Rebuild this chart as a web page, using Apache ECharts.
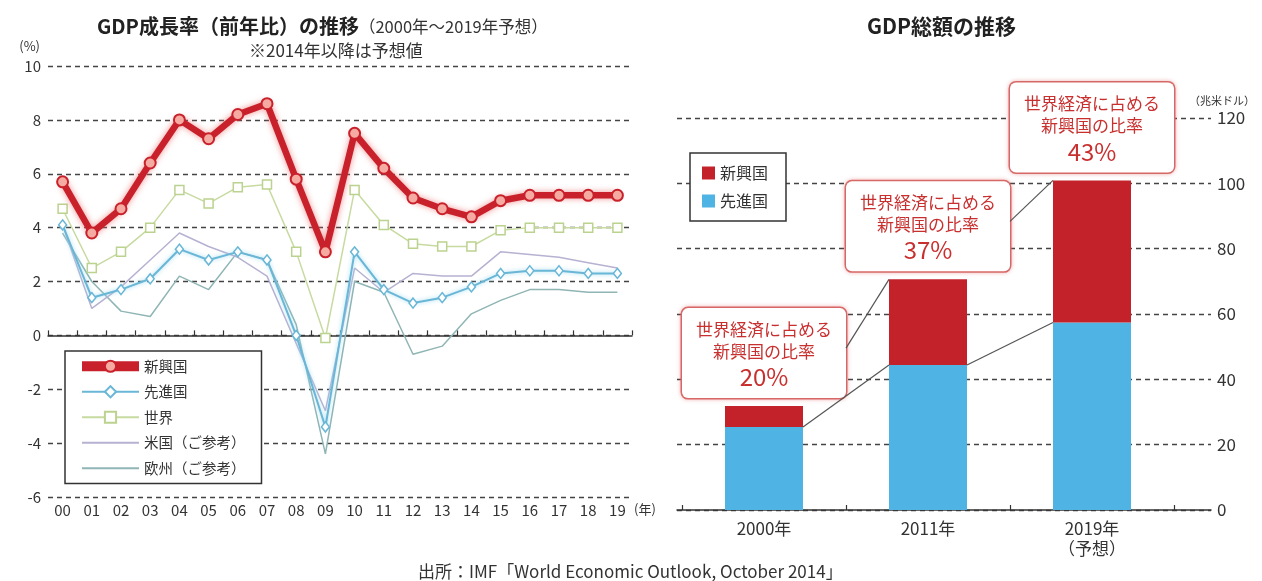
<!DOCTYPE html>
<html>
<head>
<meta charset="utf-8">
<script src="https://cdn.jsdelivr.net/npm/echarts@6/dist/echarts.min.js"></script>
<style>
  html, body { margin: 0; padding: 0; background: #fff; }
  #chart { width: 1262px; height: 581px; }
</style>
</head>
<body>
<div id="chart"></div>
<script>
// ---- GDP growth rate (year on year, %), 2000–2019 (2014 onward are forecasts) ----
const years = ['00', '01', '02', '03', '04', '05', '06', '07', '08', '09',
               '10', '11', '12', '13', '14', '15', '16', '17', '18', '19'];
const growthEmerging = [5.7, 3.8, 4.7, 6.4, 8.0, 7.3, 8.2, 8.6, 5.8, 3.1,
                        7.5, 6.2, 5.1, 4.7, 4.4, 5.0, 5.2, 5.2, 5.2, 5.2];
const growthAdvanced = [4.1, 1.4, 1.7, 2.1, 3.2, 2.8, 3.1, 2.8, 0.0, -3.4,
                        3.1, 1.7, 1.2, 1.4, 1.8, 2.3, 2.4, 2.4, 2.3, 2.3];
const growthWorld    = [4.7, 2.5, 3.1, 4.0, 5.4, 4.9, 5.5, 5.6, 3.1, -0.1,
                        5.4, 4.1, 3.4, 3.3, 3.3, 3.9, 4.0, 4.0, 4.0, 4.0];
const growthUS       = [4.1, 1.0, 1.8, 2.8, 3.8, 3.3, 2.9, 2.2, -0.3, -2.8,
                        2.5, 1.6, 2.3, 2.2, 2.2, 3.1, 3.0, 2.9, 2.7, 2.5];
const growthEurope   = [3.8, 2.0, 0.9, 0.7, 2.2, 1.7, 3.1, 2.8, 0.4, -4.4,
                        2.0, 1.6, -0.7, -0.4, 0.8, 1.3, 1.7, 1.7, 1.6, 1.6];

// ---- Total GDP (trillion US$) ----
const gdpYears    = ['2000年', '2011年', '2019年\n（予想）'];
const gdpAdvanced = [25.4, 44.4, 57.4];
const gdpEmerging = [6.4, 26.2, 43.5];

const barNames  = { emerging: '新興国（総額）', advanced: '先進国（総額）' };
const barLegendText = { [barNames.emerging]: '新興国', [barNames.advanced]: '先進国' };

const FONT = '"Noto Sans CJK JP", "Noto Sans", sans-serif';
const TEXT = '#333';
const BAR_W = 78;
const BOX_W = 164;
const LABEL_GAP = 8;
const dashed = { type: [5, 4], color: '#444', width: 1.3 };

const shareOf = i => Math.round(gdpEmerging[i] / (gdpAdvanced[i] + gdpEmerging[i]) * 100);

const chart = echarts.init(document.getElementById('chart'), null, { renderer: 'canvas' });

const option = {
  animation: false,
  backgroundColor: '#fff',
  textStyle: { fontFamily: FONT },
  title: [
    {
      text: '{b|GDP成長率（前年比）の推移}{n|（2000年〜2019年予想）}',
      left: 92, top: 11,
      textStyle: {
        rich: {
          b: { fontSize: 20, fontWeight: 'bold', color: '#222', fontFamily: FONT },
          n: { fontSize: 16.5, fontWeight: 'normal', color: TEXT, fontFamily: FONT, padding: [2, 0, 0, 0] }
        }
      }
    },
    {
      text: '※2014年以降は予想値',
      left: 244, top: 37,
      textStyle: { fontSize: 17, fontWeight: 'normal', color: TEXT, fontFamily: FONT }
    },
    {
      text: 'GDP総額の推移',
      left: 862, top: 11,
      textStyle: { fontSize: 21, fontWeight: 'bold', color: '#222', fontFamily: FONT }
    },
    {
      text: '（兆米ドル）',
      left: 1184, top: 90,
      textStyle: { fontSize: 11, fontWeight: 'normal', color: TEXT, fontFamily: FONT }
    },
    {
      text: '出所：IMF「World Economic Outlook, October 2014」',
      left: 413, top: 558,
      textStyle: { fontSize: 17, fontWeight: 'normal', color: TEXT, fontFamily: FONT }
    }
  ],
  legend: [
    {
      data: [
        { name: '新興国', lineStyle: { width: 10 } },
        { name: '先進国' },
        { name: '世界' },
        { name: '米国（ご参考）', itemStyle: { opacity: 0 } },
        { name: '欧州（ご参考）', itemStyle: { opacity: 0 } }
      ],
      orient: 'vertical',
      left: 65, top: 351,
      padding: [8, 16, 8, 12],
      itemWidth: 57, itemHeight: 14, itemGap: 11,
      backgroundColor: '#fff',
      borderColor: '#333', borderWidth: 1.5,
      selectedMode: false,
      textStyle: { fontSize: 14.5, color: TEXT, fontFamily: FONT }
    },
    {
      data: [barNames.emerging, barNames.advanced],
      orient: 'vertical',
      left: 690, top: 153,
      padding: [12, 18, 12, 12],
      itemWidth: 13, itemHeight: 13, itemGap: 12,
      icon: 'rect',
      backgroundColor: '#fff',
      borderColor: '#333', borderWidth: 1.5,
      selectedMode: false,
      formatter: name => barLegendText[name],
      textStyle: { fontSize: 16, color: TEXT, fontFamily: FONT }
    }
  ],
  grid: [
    { left: 48, right: 630, top: 66, bottom: 84 },   // growth-rate lines
    { left: 677, right: 51, top: 118, bottom: 71 },  // right frame: value scale + baseline
    { left: 682, right: 88, top: 118, bottom: 71 }   // stacked bars
  ],
  xAxis: [
    {
      gridIndex: 0, type: 'category', data: years, position: 'bottom',
      axisLine: { show: false, onZero: false },
      axisTick: { show: false },
      axisLabel: { fontSize: 15, color: TEXT, margin: 6, fontFamily: FONT },
      name: '(年)', nameLocation: 'end', nameGap: 2,
      nameTextStyle: { fontSize: 13, color: TEXT, verticalAlign: 'top', padding: [6, 0, 0, 0], fontFamily: FONT }
    },
    {
      gridIndex: 0, type: 'category', data: years, position: 'top',
      axisLine: { show: true, onZero: true, lineStyle: { color: '#333', width: 1.5 } },
      axisTick: { show: true, length: 5, lineStyle: { color: '#333', width: 1.2 } },
      axisLabel: { show: false }
    },
    {
      gridIndex: 1, type: 'value', min: 0, max: 1,
      axisLine: { show: true, onZero: false, lineStyle: { color: '#333', width: 1.5 } },
      axisTick: { show: false }, axisLabel: { show: false }, splitLine: { show: false }
    },
    {
      gridIndex: 2, type: 'category', data: gdpYears,
      axisLine: { show: false, onZero: false },
      axisTick: { show: true, inside: true, length: 5, lineStyle: { color: '#333', width: 1.2 } },
      axisLabel: { fontSize: 17, lineHeight: 20, color: TEXT, margin: 9, fontFamily: FONT }
    }
  ],
  yAxis: [
    {
      gridIndex: 0, type: 'value', min: -6, max: 10, interval: 2,
      axisLine: { show: false }, axisTick: { show: false },
      axisLabel: { fontSize: 15, color: TEXT, margin: 7, fontFamily: FONT },
      splitLine: { show: true, lineStyle: dashed },
      name: '(%)', nameLocation: 'end', nameGap: 13,
      nameTextStyle: { fontSize: 13, color: TEXT, align: 'right', padding: [0, 8, 0, 0], fontFamily: FONT }
    },
    {
      gridIndex: 1, type: 'value', position: 'right', min: 0, max: 120, interval: 20,
      axisLine: { show: false }, axisTick: { show: false },
      axisLabel: { fontSize: 17, color: TEXT, margin: 6, fontFamily: FONT },
      splitLine: { show: true, lineStyle: dashed }
    },
    {
      gridIndex: 2, type: 'value', min: 0, max: 120, show: false
    }
  ],
  series: [
    {
      name: '欧州（ご参考）', type: 'line', xAxisIndex: 0, yAxisIndex: 0, z: 2,
      data: growthEurope, showSymbol: false, symbol: 'none',
      lineStyle: { color: '#8fb5b4', width: 1.5 },
      itemStyle: { color: '#8fb5b4' }
    },
    {
      name: '米国（ご参考）', type: 'line', xAxisIndex: 0, yAxisIndex: 0, z: 2,
      data: growthUS, showSymbol: false, symbol: 'none',
      lineStyle: { color: '#b7b1d2', width: 1.5 },
      itemStyle: { color: '#b7b1d2' }
    },
    {
      name: '世界', type: 'line', xAxisIndex: 0, yAxisIndex: 0, z: 3,
      data: growthWorld, symbol: 'rect', symbolSize: 9,
      lineStyle: { color: '#c7daa0', width: 1.5 },
      itemStyle: { color: '#fff', borderColor: '#bcd28f', borderWidth: 1.5 }
    },
    {
      name: '先進国', type: 'line', xAxisIndex: 0, yAxisIndex: 0, z: 4,
      data: growthAdvanced, symbol: 'diamond', symbolSize: [8, 10],
      lineStyle: { color: '#69b6d6', width: 2, shadowColor: 'rgba(150,215,240,0.9)', shadowBlur: 4 },
      itemStyle: { color: '#fff', borderColor: '#69b6d6', borderWidth: 1.5 }
    },
    {
      name: '新興国', type: 'line', xAxisIndex: 0, yAxisIndex: 0, z: 5,
      data: growthEmerging, symbol: 'circle', symbolSize: 11,
      lineStyle: { color: '#c9212b', width: 6.5, shadowColor: 'rgba(235,110,110,0.75)', shadowBlur: 6 },
      itemStyle: { color: '#f5aaa2', borderColor: '#c9212b', borderWidth: 2 }
    },
    {
      name: barNames.advanced, type: 'bar', xAxisIndex: 3, yAxisIndex: 2,
      stack: 'gdp', barWidth: BAR_W, data: gdpAdvanced,
      itemStyle: { color: '#4fb3e3' }
    },
    {
      name: barNames.emerging, type: 'bar', xAxisIndex: 3, yAxisIndex: 2,
      stack: 'gdp', barWidth: BAR_W, data: gdpEmerging,
      itemStyle: { color: '#c4222b' },
      label: {
        show: true, position: 'top', distance: LABEL_GAP,
        formatter: p => '{t|世界経済に占める}\n{t|新興国の比率}\n{p|' + shareOf(p.dataIndex) + '%}',
        width: BOX_W - 12, align: 'center',
        padding: [10, 6, 6, 6],
        backgroundColor: '#fff',
        borderColor: '#d66b69', borderWidth: 1.5, borderRadius: 6,
        shadowColor: 'rgba(220,90,90,0.35)', shadowBlur: 4,
        rich: {
          t: { fontSize: 17, lineHeight: 22, color: '#c8302f', align: 'center', fontFamily: FONT },
          p: { fontSize: 24, lineHeight: 30, color: '#c8302f', align: 'center', fontFamily: FONT }
        }
      }
    },
    {
      // connectors: advanced-segment tops between bars, and share boxes to the next bar
      name: 'connectors', type: 'custom', xAxisIndex: 3, yAxisIndex: 2, z: 3,
      data: gdpAdvanced.slice(1).map((_, i) => [i, gdpAdvanced[i]]),
      renderItem: (params, api) => {
        const i = api.value(0);
        const half = BAR_W / 2;
        const a0 = api.coord([i, gdpAdvanced[i]]);
        const a1 = api.coord([i + 1, gdpAdvanced[i + 1]]);
        const t0 = api.coord([i, gdpAdvanced[i] + gdpEmerging[i]]);
        const t1 = api.coord([i + 1, gdpAdvanced[i + 1] + gdpEmerging[i + 1]]);
        const boxRight = t0[0] + BOX_W / 2;
        const boxY = t0[1] - LABEL_GAP - 50;
        const style = { stroke: '#555', lineWidth: 1.2 };
        return {
          type: 'group',
          children: [
            { type: 'line', shape: { x1: a0[0] + half, y1: a0[1], x2: a1[0] - half, y2: a1[1] }, style },
            { type: 'line', shape: { x1: boxRight, y1: boxY, x2: t1[0] - half, y2: t1[1] }, style }
          ]
        };
      }
    }
  ]
};

chart.setOption(option);
</script>
</body>
</html>
